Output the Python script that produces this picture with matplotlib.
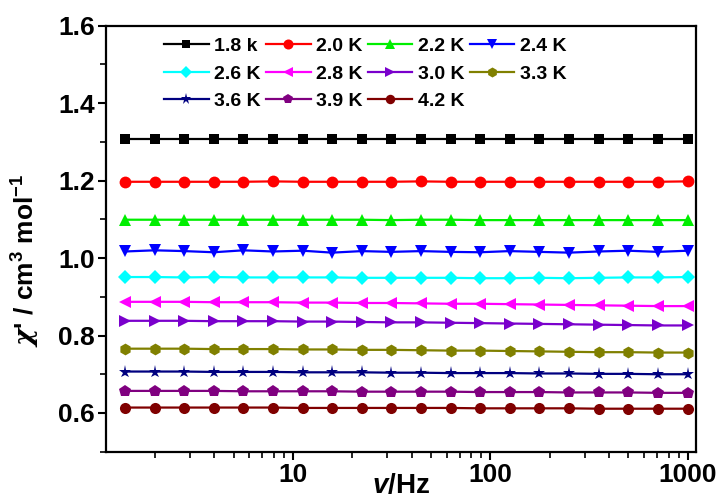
import matplotlib
matplotlib.use("Agg")
import matplotlib.pyplot as plt
from matplotlib.ticker import MultipleLocator, LogLocator, FixedLocator, NullFormatter, FormatStrFormatter

plt.rcParams['font.family'] = ['Liberation Sans', 'DejaVu Sans']
plt.rcParams['font.weight'] = 'bold'
plt.rcParams['mathtext.fontset'] = 'custom'
plt.rcParams['mathtext.rm'] = 'Liberation Sans:bold'
plt.rcParams['mathtext.it'] = 'DejaVu Serif:italic:bold'
plt.rcParams['mathtext.sf'] = 'Liberation Sans:italic:bold'
plt.rcParams['mathtext.bf'] = 'Liberation Sans:bold'

freq = [1.41, 1.99, 2.81, 3.97, 5.61, 7.92, 11.2, 15.8, 22.3, 31.5,
        44.5, 62.8, 88.7, 125, 177, 250, 353, 499, 705, 1000]

labels = ["1.8 k", "2.0 K", "2.2 K", "2.4 K", "2.6 K", "2.8 K",
          "3.0 K", "3.3 K", "3.6 K", "3.9 K", "4.2 K"]

chi_18 = [1.308, 1.308, 1.308, 1.308, 1.308, 1.308, 1.308, 1.308, 1.308, 1.308,
          1.308, 1.308, 1.308, 1.308, 1.308, 1.308, 1.308, 1.308, 1.308, 1.308]
chi_20 = [1.197, 1.197, 1.197, 1.197, 1.197, 1.198, 1.197, 1.197, 1.197, 1.197,
          1.198, 1.197, 1.197, 1.197, 1.197, 1.197, 1.197, 1.197, 1.197, 1.198]
chi_22 = [1.099, 1.099, 1.099, 1.099, 1.099, 1.099, 1.099, 1.099, 1.099, 1.098,
          1.099, 1.099, 1.098, 1.098, 1.098, 1.098, 1.098, 1.098, 1.098, 1.098]
chi_24 = [1.017, 1.020, 1.018, 1.015, 1.020, 1.017, 1.019, 1.014, 1.018, 1.016,
          1.018, 1.016, 1.015, 1.018, 1.016, 1.014, 1.017, 1.019, 1.016, 1.019]
chi_26 = [0.951, 0.951, 0.950, 0.951, 0.950, 0.950, 0.950, 0.950, 0.949, 0.949,
          0.949, 0.949, 0.948, 0.948, 0.949, 0.948, 0.949, 0.950, 0.950, 0.951]
chi_28 = [0.887, 0.887, 0.887, 0.886, 0.886, 0.886, 0.885, 0.885, 0.884, 0.884,
          0.883, 0.882, 0.882, 0.881, 0.880, 0.879, 0.878, 0.877, 0.876, 0.876]
chi_30 = [0.838, 0.838, 0.838, 0.837, 0.837, 0.837, 0.836, 0.836, 0.835, 0.834,
          0.834, 0.833, 0.832, 0.831, 0.830, 0.829, 0.828, 0.827, 0.826, 0.826]
chi_33 = [0.766, 0.766, 0.766, 0.765, 0.765, 0.765, 0.764, 0.764, 0.763, 0.763,
          0.762, 0.761, 0.761, 0.760, 0.759, 0.758, 0.757, 0.757, 0.756, 0.756]
chi_36 = [0.707, 0.707, 0.707, 0.706, 0.706, 0.706, 0.705, 0.705, 0.705, 0.704,
          0.704, 0.703, 0.703, 0.703, 0.702, 0.702, 0.701, 0.701, 0.700, 0.700]
chi_39 = [0.657, 0.657, 0.657, 0.657, 0.656, 0.656, 0.656, 0.656, 0.655, 0.655,
          0.655, 0.655, 0.654, 0.654, 0.654, 0.653, 0.653, 0.653, 0.652, 0.652]
chi_42 = [0.614, 0.614, 0.614, 0.614, 0.614, 0.614, 0.613, 0.613, 0.613, 0.613,
          0.613, 0.613, 0.612, 0.612, 0.612, 0.612, 0.611, 0.611, 0.611, 0.611]

series = [chi_18, chi_20, chi_22, chi_24, chi_26, chi_28, chi_30, chi_33, chi_36, chi_39, chi_42]
colors = ['#000000', '#FF0000', '#00EE00', '#0000FF', '#00FFFF', '#FF00FF',
          '#7A00CC', '#808000', '#000080', '#800080', '#800000']
markers = ['s', 'o', '^', 'v', 'D', '<', '>', 'h', '*', 'p', 'o']
msizes = [7.5, 8.5, 9, 9, 7.5, 9, 9, 8.5, 9.5, 9, 8]

fig = plt.figure(figsize=(7.18, 5.01), dpi=100)
ax = fig.add_axes([0.1476, 0.0984, 0.9694 - 0.1476, 0.9487 - 0.0984])

handles = []
for ys, c, m, ms, lab in zip(series, colors, markers, msizes, labels):
    h, = ax.plot(freq, ys, color=c, marker=m, markersize=ms, linewidth=1.6,
                 markeredgewidth=0, label=lab)
    handles.append(h)

ax.set_xscale('log')
ax.set_xlim(1.13, 1100)
ax.set_ylim(0.5, 1.6)
ax.xaxis.set_major_locator(FixedLocator([10, 100, 1000]))
ax.xaxis.set_minor_locator(LogLocator(base=10, subs=range(2, 10), numticks=20))
ax.xaxis.set_minor_formatter(NullFormatter())
ax.set_xticklabels(['10', '100', '1000'])
ax.yaxis.set_major_locator(FixedLocator([0.6, 0.8, 1.0, 1.2, 1.4, 1.6]))
ax.yaxis.set_minor_locator(MultipleLocator(0.1))
ax.yaxis.set_major_formatter(FormatStrFormatter('%.1f'))

for s in ax.spines.values():
    s.set_linewidth(1.6)
ax.tick_params(axis='both', which='major', direction='out', length=6, width=1.5,
               labelsize=19, top=False, right=False, pad=2)
ax.tick_params(axis='both', which='minor', direction='out', length=4, width=1.2,
               top=False, right=False)
for lbl in ax.get_xticklabels() + ax.get_yticklabels():
    lbl.set_fontweight('bold')

ax.set_xlabel(r'$\mathsf{v}$/Hz', fontsize=20, fontweight='bold', labelpad=-10)
ax.set_ylabel(r"$\chi$' / cm$^3$ mol$^{-1}$", fontsize=19, fontweight='bold')
ax.yaxis.set_label_coords(-0.108, 0.45)

# row-major legend order (matplotlib fills columns first)
order = [0, 4, 8, 1, 5, 9, 2, 6, 10, 3, 7]
leg = ax.legend([handles[i] for i in order], [labels[i] for i in order],
                loc='upper left', ncol=4, frameon=False, fontsize=14,
                bbox_to_anchor=(0.098, 0.972), borderaxespad=0, borderpad=0,
                handlelength=2.3, handletextpad=0.3, columnspacing=0.25,
                labelspacing=0.5, markerscale=0.85)
for t in leg.get_texts():
    t.set_fontweight('bold')

fig.savefig('out.png', dpi=100, facecolor='white')
